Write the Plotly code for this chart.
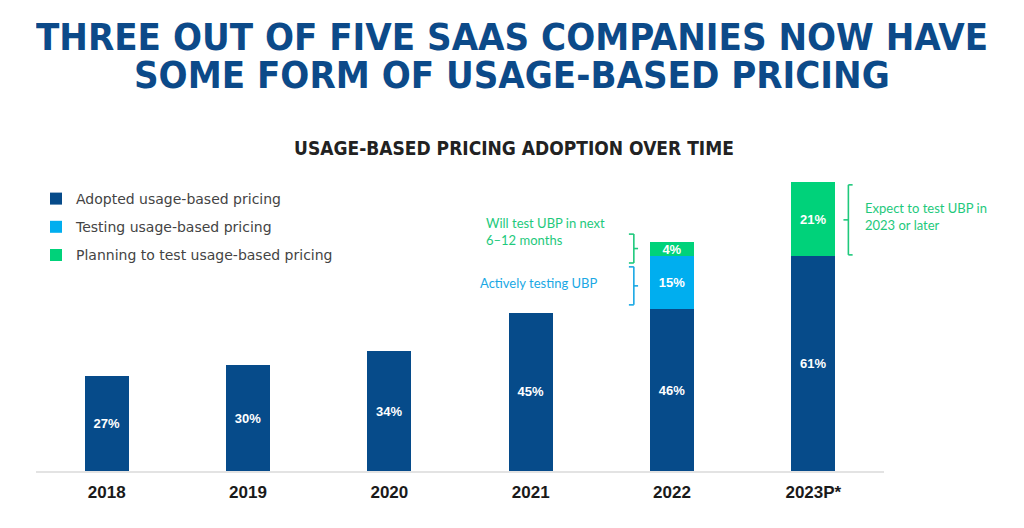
import plotly.graph_objects as go

# --- data ---
years = ["2018", "2019", "2020", "2021", "2022", "2023P*"]
adopted = [27, 30, 34, 45, 46, 61]
testing = [None, None, None, None, 15, None]
planning = [None, None, None, None, 4, 21]

series_names = [
    "Adopted usage-based pricing",
    "Testing usage-based pricing",
    "Planning to test usage-based pricing",
]

DARK_BLUE = "#064b8a"
LIGHT_BLUE = "#00aeef"
GREEN = "#00d27a"
GREEN_TXT = "#1ec97c"
BLUE_TXT = "#1aa8e4"

BAR_W = 0.31

# the page body adds an 8px offset, so the frame is shifted by that much
PAGE_OFF = 8
PLOT_TOP, PLOT_BOTTOM = 150 - PAGE_OFF, 471 - PAGE_OFF
PLOT_LEFT, PLOT_RIGHT = 36 - PAGE_OFF, 884 - PAGE_OFF


def py(pix):
    return (PLOT_BOTTOM - (pix - PAGE_OFF)) / (PLOT_BOTTOM - PLOT_TOP)


def px_(pix):
    return ((pix - PAGE_OFF) - PLOT_LEFT) / (PLOT_RIGHT - PLOT_LEFT)


def pct(vals):
    return [f"{v}%" if v is not None else "" for v in vals]


fig = go.Figure()
for i, (name, vals, col) in enumerate(
    zip(series_names, [adopted, testing, planning], [DARK_BLUE, LIGHT_BLUE, GREEN])
):
    fig.add_trace(
        go.Bar(
            x=years,
            y=vals,
            name=name,
            marker=dict(color=col, line=dict(width=0)),
            width=BAR_W,
            text=pct(vals),
            textposition="inside",
            insidetextanchor="middle",
            textangle=0,
            textfont=dict(family="Liberation Sans", size=13, color="white", weight="bold"),
            legendgroup=f"g{i}",
            hoverinfo="skip",
        )
    )


# --- brackets next to the 2022 and 2023 stacks ---
def bracket(xv, y0, y1, end_dx, mid_dx, color):
    ym = (y0 + y1) / 2
    segs = [
        (xv, y0, xv, y1),
        (xv, y0, xv + end_dx, y0),
        (xv, y1, xv + end_dx, y1),
        (xv, ym, xv + mid_dx, ym),
    ]
    for xa, ya, xb, yb in segs:
        fig.add_shape(
            type="line", xref="x", yref="y",
            x0=xa, y0=ya, x1=xb, y1=yb,
            line=dict(color=color, width=1.6),
        )


i22 = years.index("2022")
i23 = years.index("2023P*")
bracket(i22 - 0.27, adopted[i22] + testing[i22] - 1.9, adopted[i22] + testing[i22] + planning[i22] + 2.3,
        -0.035, 0.03, GREEN_TXT)
bracket(i22 - 0.27, adopted[i22] + 1.2, adopted[i22] + testing[i22] - 3.0, -0.035, 0.03, BLUE_TXT)
bracket(i23 + 0.248, adopted[i23] + 0.4, adopted[i23] + planning[i23] - 0.7, 0.03, -0.035, GREEN_TXT)

note_font = dict(family="Lato", size=13)
fig.add_annotation(
    x=i22 - 1.33, y=68.0, xref="x", yref="y", xanchor="left", yanchor="middle",
    text="Will test UBP in next<br>6–12 months", showarrow=False, align="left",
    font=dict(color=GREEN_TXT, **note_font),
)
fig.add_annotation(
    x=i22 - 1.374, y=53.4, xref="x", yref="y", xanchor="left", yanchor="middle",
    text="Actively testing UBP", showarrow=False, align="left",
    font=dict(color=BLUE_TXT, **note_font),
)
fig.add_annotation(
    x=i23 + 0.354, y=72.3, xref="x", yref="y", xanchor="left", yanchor="middle",
    text="Expect to test UBP in<br>2023 or later", showarrow=False, align="left",
    font=dict(color=GREEN_TXT, **note_font),
)

# --- headline and chart title ---
COND = "DejaVu Sans Condensed, Liberation Sans"
head_font = dict(family=COND, size=38, color="#0c4a89", weight="bold")
fig.add_annotation(
    x=px_(512), y=py(37), xref="paper", yref="paper", xanchor="center", yanchor="middle",
    text="THREE OUT OF FIVE SAAS COMPANIES NOW HAVE", showarrow=False, font=head_font,
    height=36,
)
fig.add_annotation(
    x=px_(512), y=py(75), xref="paper", yref="paper", xanchor="center", yanchor="middle",
    text="SOME FORM OF USAGE-BASED PRICING", showarrow=False, font=head_font,
    height=36,
)
fig.add_annotation(
    x=px_(514), y=py(148), xref="paper", yref="paper", xanchor="center", yanchor="middle",
    text="USAGE-BASED PRICING ADOPTION OVER TIME", showarrow=False,
    font=dict(family=COND, size=19, color="#222222", weight="bold"),
)

fig.update_layout(
    barmode="stack",
    width=1024,
    height=528,
    margin=dict(l=PLOT_LEFT, r=1024 - PLOT_RIGHT, t=PLOT_TOP, b=528 - PLOT_BOTTOM),
    plot_bgcolor="white",
    paper_bgcolor="white",
    showlegend=True,
    uniformtext=dict(minsize=12, mode="show"),
    legend=dict(
        x=0, y=py(183), xanchor="left", yanchor="top",
        traceorder="grouped", tracegroupgap=7,
        font=dict(family="DejaVu Sans", size=14, color="#444444"),
        bgcolor="rgba(0,0,0,0)",
    ),
    xaxis=dict(
        showline=True, linecolor="#e3e3e3", linewidth=2,
        showgrid=False, ticks="", range=[-0.5, 5.5], ticklabelstandoff=5,
        tickfont=dict(family="Liberation Sans", size=17, color="#1a1a1a", weight="bold"),
    ),
    yaxis=dict(visible=False, range=[0, 91.2]),
)

fig.write_html("out.html")
